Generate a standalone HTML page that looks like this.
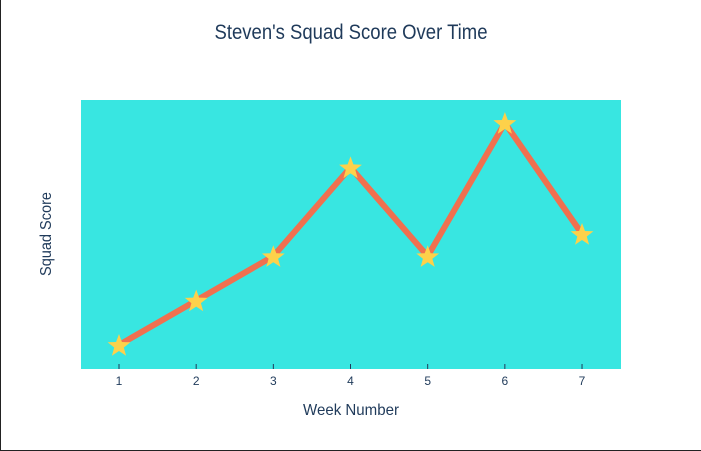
<!DOCTYPE html>
<html><head><meta charset="utf-8"><style>
html,body{margin:0;padding:0;background:#fff;}
svg{display:block;font-family:"Liberation Sans",sans-serif;}
</style></head><body>
<svg id="chart" width="701" height="451">
<rect x="0" y="0" width="701" height="451" fill="#fff"/>
<line x1="0.5" y1="0" x2="0.5" y2="451" stroke="#222"/>
<line x1="0" y1="450.5" x2="701" y2="450.5" stroke="#222"/>
<rect x="81" y="100" width="540" height="269" fill="#38e6e1"/>
<text x="351" y="39" text-anchor="middle" font-size="21" fill="#1f3a5a" textLength="273" lengthAdjust="spacingAndGlyphs">Steven's Squad Score Over Time</text>
<text x="351" y="415" text-anchor="middle" font-size="16" fill="#1f3a5a" textLength="96" lengthAdjust="spacingAndGlyphs">Week Number</text>
<text transform="translate(51,234) rotate(-90)" text-anchor="middle" font-size="16" fill="#1f3a5a" textLength="84" lengthAdjust="spacingAndGlyphs">Squad Score</text>
<g id="ticks"></g><g id="series"></g>
</svg>
<script>
const weeks=[1,2,3,4,5,6,7];
const scores=[1,2,3,5,3,6,3.5];
const xTickLabels=["1","2","3","4","5","6","7"];
const NS="http://www.w3.org/2000/svg";
function xs(v){return 119+(v-1)*77.17;}
function ys(v){return 345-(v-1)*44.4;}
const tg=document.getElementById('ticks'),sg=document.getElementById('series');
weeks.forEach((w,i)=>{
 const l=document.createElementNS(NS,'line');
 l.setAttribute('x1',xs(w));l.setAttribute('x2',xs(w));l.setAttribute('y1',364);l.setAttribute('y2',369);
 l.setAttribute('stroke','#1f3a5a');
 
 
 tg.appendChild(l);
 const t=document.createElementNS(NS,'text');
 t.setAttribute('x',xs(w));t.setAttribute('y',385);t.setAttribute('text-anchor','middle');
 t.setAttribute('font-size','12');t.setAttribute('fill','#1f3a5a');t.textContent=xTickLabels[i];
 
 
 tg.appendChild(t);
});
const p=document.createElementNS(NS,'polyline');
p.setAttribute('points',weeks.map((w,i)=>xs(w)+','+ys(scores[i])).join(' '));
p.setAttribute('fill','none');p.setAttribute('stroke','#f0704f');p.setAttribute('stroke-width','6');p.setAttribute('stroke-linejoin','miter');


sg.appendChild(p);
function star(cx,cy,R,r){let s=[];for(let k=0;k<10;k++){const a=-Math.PI/2+k*Math.PI/5;const rr=k%2?r:R;s.push((cx+rr*Math.cos(a)).toFixed(1)+','+(cy+rr*Math.sin(a)).toFixed(1));}return s.join(' ');}
weeks.forEach((w,i)=>{
 const s=document.createElementNS(NS,'polygon');
 s.setAttribute('points',star(xs(w),ys(scores[i])+1,12,5));
 s.setAttribute('fill','#fdd14a');
 
 
 sg.appendChild(s);
});
</script>
</body></html>
